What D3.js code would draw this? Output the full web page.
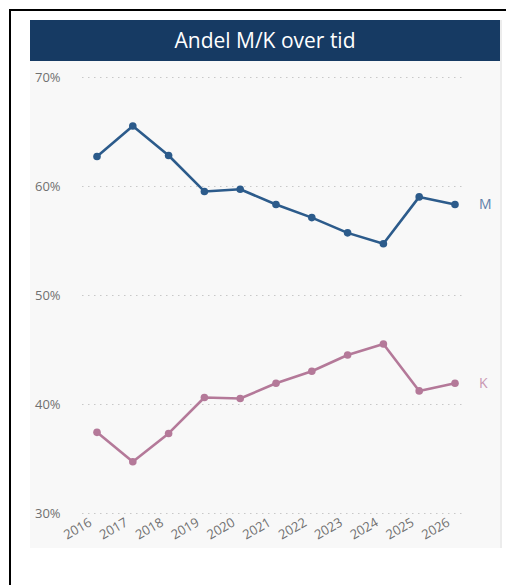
<!DOCTYPE html>
<html>
<head>
<meta charset="utf-8">
<script src="https://cdn.jsdelivr.net/npm/d3@7"></script>
<style>
  body { margin: 0; background: #fff; }
  svg { display: block; font-family: "Open Sans", "Noto Sans", sans-serif; }
</style>
</head>
<body>
<svg id="svg" width="506" height="585"></svg>
<script>
// data
var years = ["2016","2017","2018","2019","2020","2021","2022","2023","2024","2025","2026"];
var mValues = [62.7, 65.5, 62.8, 59.5, 59.7, 58.3, 57.1, 55.7, 54.7, 59.0, 58.3];
var kValues = [37.4, 34.7, 37.3, 40.6, 40.5, 41.9, 43.0, 44.5, 45.5, 41.2, 41.9];
var yTicks = [30, 40, 50, 60, 70];
var seriesNames = ["M", "K"];

var svg = d3.select("#svg");

// outer frame (runs off to the right / bottom)
svg.append("rect")
  .attr("x", 10).attr("y", 10)
  .attr("width", 520).attr("height", 600)
  .attr("fill", "#fff")
  .attr("stroke", "#000").attr("stroke-width", 2);

// panel
svg.append("rect")
  .attr("x", 30).attr("y", 61)
  .attr("width", 470).attr("height", 487)
  .attr("fill", "#f8f8f8");
svg.append("line")
  .attr("x1", 501).attr("x2", 501).attr("y1", 20).attr("y2", 548)
  .attr("stroke", "#ececec").attr("stroke-width", 2);

// header
svg.append("rect")
  .attr("x", 30).attr("y", 20)
  .attr("width", 470).attr("height", 41)
  .attr("fill", "#163a63");
svg.append("text")
  .attr("x", 265).attr("y", 48)
  .attr("text-anchor", "middle")
  .attr("fill", "#fff")
  .attr("font-size", 21)
  .text("Andel M/K over tid");

var yScale = d3.scaleLinear().domain([30, 70]).range([513, 77]);
var xScale = d3.scalePoint().domain(years).range([97, 455]);

// y grid + labels
var yAxis = svg.append("g")
  .attr("transform", "translate(82,0)")
  .call(d3.axisRight(yScale).tickValues(yTicks).tickSize(383).tickFormat(function(d){ return d + "%"; }));
yAxis.select(".domain").remove();
yAxis.selectAll(".tick line")
  .attr("stroke", "#c8c8c8")
  .attr("stroke-dasharray", "1.5,4.5");
yAxis.selectAll(".tick text")
  .attr("x", -47).attr("text-anchor", "start")
  .attr("fill", "#707070")
  .attr("font-size", 13)
  .attr("font-family", "Open Sans, sans-serif");

// x axis labels
var xAxis = svg.append("g")
  .attr("transform", "translate(0,513)")
  .call(d3.axisBottom(xScale).tickSize(0));
xAxis.select(".domain").remove();
xAxis.selectAll(".tick text")
  .attr("fill", "#707070")
  .attr("font-size", 13)
  .attr("font-family", "Open Sans, sans-serif")
  .attr("text-anchor", "end")
  .attr("y", 0)
  .attr("dy", "0.35em")
  .attr("transform", "translate(-7,8) rotate(-30)");

var series = [
  { name: seriesNames[0], values: mValues, color: "#2c5b8b", label: "#5d80a8" },
  { name: seriesNames[1], values: kValues, color: "#b47999", label: "#c897b2" }
];

var line = d3.line()
  .x(function(d, i){ return xScale(years[i]); })
  .y(function(d){ return yScale(d); });

series.forEach(function(s){
  var g = svg.append("g");
  g.append("path")
    .attr("d", line(s.values))
    .attr("fill", "none")
    .attr("stroke", s.color)
    .attr("stroke-width", 2.6)
    .attr("stroke-linejoin", "round");
  g.selectAll("circle")
    .data(s.values)
    .enter()
    .append("circle")
    .attr("cx", function(d, i){ return xScale(years[i]); })
    .attr("cy", function(d){ return yScale(d); })
    .attr("r", 3.8)
    .attr("fill", s.color);
  var last = s.values[s.values.length - 1];
  g.append("text")
    .attr("x", xScale(years[years.length - 1]) + 24)
    .attr("y", yScale(last))
    .attr("dy", "0.35em")
    .attr("fill", s.label)
    .attr("font-size", 14)
    .text(s.name);
});
</script>
</body>
</html>
